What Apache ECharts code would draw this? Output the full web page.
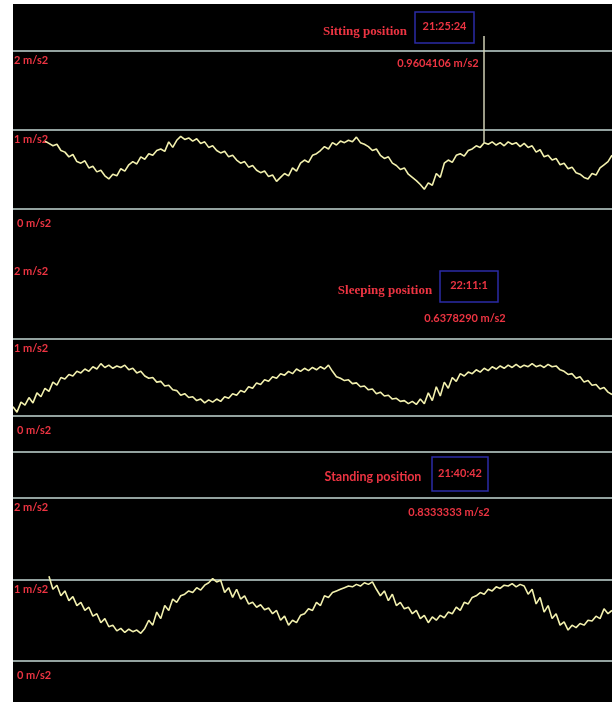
<!DOCTYPE html>
<html>
<head>
<meta charset="utf-8">
<script src="https://cdn.jsdelivr.net/npm/echarts@6/dist/echarts.min.js"></script>
<style>html,body{margin:0;padding:0;background:#fff;}#c{width:612px;height:702px;}</style>
</head>
<body>
<div id="c"></div>
<script>
// ---- Data (acceleration samples, m/s2; x = sample index) ----
const sampleCount = 150;
const tickLabels = ['0 m/s2', '1 m/s2', '2 m/s2'];

const sittingStart = 8;
const sittingValues = [
  0.86,0.83,0.80,0.82,0.74,0.72,0.66,0.69,0.60,0.58,0.61,0.52,0.54,0.47,0.49,0.42,0.38,
  0.44,0.42,0.51,0.48,0.56,0.60,0.57,0.66,0.63,0.70,0.68,0.74,0.76,0.73,0.85,0.78,0.87,
  0.92,0.88,0.90,0.86,0.89,0.83,0.85,0.78,0.80,0.74,0.71,0.73,0.66,0.68,0.62,0.58,0.60,
  0.53,0.55,0.49,0.46,0.48,0.41,0.43,0.35,0.40,0.45,0.42,0.52,0.48,0.58,0.62,0.59,0.68,
  0.70,0.74,0.79,0.76,0.84,0.81,0.86,0.84,0.87,0.85,0.91,0.84,0.82,0.79,0.74,0.76,0.68,
  0.64,0.66,0.58,0.55,0.50,0.52,0.44,0.40,0.36,0.31,0.25,0.33,0.30,0.45,0.40,0.58,0.62,
  0.59,0.68,0.70,0.67,0.74,0.76,0.80,0.78,0.84,0.82,0.85,0.81,0.84,0.80,0.85,0.82,0.84,
  0.79,0.83,0.78,0.80,0.72,0.75,0.66,0.68,0.62,0.64,0.56,0.58,0.51,0.53,0.46,0.44,0.40,
  0.38,0.45,0.43,0.52,0.56,0.60,0.68
];
const sittingMarkIndex = 118;

const sleepingStart = 0;
const sleepingValues = [
  0.12,0.05,0.18,0.14,0.24,0.17,0.30,0.25,0.36,0.32,0.44,0.40,0.50,0.48,0.54,0.52,0.58,
  0.56,0.61,0.58,0.64,0.61,0.68,0.63,0.66,0.62,0.65,0.63,0.66,0.60,0.62,0.56,0.58,0.52,
  0.49,0.50,0.44,0.45,0.39,0.40,0.34,0.33,0.27,0.29,0.24,0.25,0.20,0.22,0.17,0.21,0.18,
  0.22,0.19,0.25,0.23,0.29,0.27,0.33,0.31,0.38,0.36,0.43,0.41,0.47,0.45,0.51,0.49,0.55,
  0.53,0.58,0.55,0.61,0.58,0.62,0.59,0.63,0.60,0.64,0.61,0.66,0.58,0.51,0.49,0.46,0.47,
  0.42,0.43,0.38,0.39,0.34,0.35,0.29,0.31,0.26,0.27,0.22,0.23,0.19,0.20,0.16,0.19,0.15,
  0.22,0.16,0.30,0.20,0.38,0.26,0.44,0.36,0.50,0.45,0.55,0.52,0.57,0.55,0.60,0.57,0.62,
  0.59,0.64,0.61,0.65,0.62,0.66,0.63,0.67,0.63,0.66,0.64,0.68,0.64,0.66,0.63,0.67,0.64,
  0.65,0.60,0.58,0.54,0.55,0.49,0.51,0.44,0.46,0.40,0.41,0.35,0.37,0.31,0.28
];

const standingStart = 9;
const standingValues = [
  1.04,0.88,0.93,0.80,0.86,0.74,0.79,0.68,0.72,0.62,0.66,0.55,0.58,0.47,0.52,0.42,0.44,
  0.37,0.40,0.35,0.39,0.36,0.38,0.34,0.40,0.50,0.44,0.60,0.52,0.68,0.62,0.76,0.72,0.80,
  0.82,0.86,0.84,0.90,0.87,0.93,0.96,1.01,0.97,0.99,0.84,0.90,0.78,0.88,0.76,0.80,0.70,
  0.72,0.66,0.69,0.63,0.65,0.58,0.62,0.50,0.55,0.44,0.50,0.47,0.56,0.58,0.64,0.62,0.72,
  0.68,0.80,0.78,0.84,0.86,0.88,0.90,0.92,0.91,0.94,0.92,0.96,0.94,0.97,0.88,0.80,0.86,
  0.74,0.82,0.68,0.72,0.64,0.66,0.58,0.62,0.52,0.56,0.47,0.54,0.50,0.56,0.53,0.60,0.58,
  0.66,0.62,0.72,0.70,0.78,0.80,0.84,0.82,0.88,0.86,0.91,0.89,0.93,0.92,0.95,0.91,0.94,
  0.92,0.82,0.88,0.70,0.78,0.60,0.68,0.52,0.58,0.44,0.48,0.38,0.44,0.41,0.46,0.44,0.50,
  0.49,0.55,0.52,0.64,0.58,0.62
];

const panelMax = [2.19, 2, 2.564];
const annotations = [
  { title: 'Sitting position', time: '21:25:24', value: '0.9604106 m/s2' },
  { title: 'Sleeping position', time: '22:11:1', value: '0.6378290 m/s2' },
  { title: 'Standing position', time: '21:40:42', value: '0.8333333 m/s2' }
];

// ---- Chart ----
const RED = '#ec3442';
const GRIDC = '#93a29f';
const LINEC = '#f2f0ae';
const BLUE = '#2b2ba6';

function toPairs(start, vals) { return vals.map((v, k) => [start + k, v]); }

const grids = [
  { left: 13, width: 600, top: 36, height: 173 },
  { left: 13, width: 600, top: 262, height: 154 },
  { left: 13, width: 600, top: 452, height: 209 }
];

function yAxisFor(i) {
  return {
    type: 'value', gridIndex: i, min: 0, max: panelMax[i], interval: 1,
    axisLine: { show: false }, axisTick: { show: false },
    splitLine: { show: true, showMaxLine: i === 2, lineStyle: { color: GRIDC, width: 2 } },
    axisLabel: {
      inside: true, margin: 1, verticalAlign: 'top', align: 'left',
      formatter: function (v) {
        if (!Number.isInteger(v)) return '';
        return v === 0 ? '{z|' + tickLabels[0] + '}' : '{a|' + tickLabels[v] + '}';
      },
      rich: {
        a: { color: RED, fontSize: 11, fontWeight: 'bold', fontFamily: 'Lato, sans-serif', padding: [4, 0, 0, 0] },
        z: { color: RED, fontSize: 11, fontWeight: 'bold', fontFamily: 'Lato, sans-serif', padding: [9, 0, 0, 3] }
      }
    }
  };
}

const markValue = sittingValues[sittingMarkIndex - sittingStart];

const titleFont = ['bold 13px "Liberation Serif", serif', 'bold 13px "Liberation Serif", serif', 'bold 12.5px Lato, sans-serif'];
const annPos = [
  { tx: 365, ty: 32, bx: 415, by: 12, bw: 59, bh: 31, vx: 438, vy: 63 },
  { tx: 385, ty: 291, bx: 440, by: 271, bw: 58, bh: 31, vx: 465, vy: 318 },
  { tx: 373, ty: 477, bx: 432, by: 457, bw: 56, bh: 34, vx: 449, vy: 512 }
];
const graphics = [
  { type: 'rect', shape: { x: 0, y: 0, width: 13, height: 702 }, style: { fill: '#fff' }, z: 100 },
  { type: 'rect', shape: { x: 0, y: 0, width: 612, height: 4 }, style: { fill: '#fff' }, z: 100 }
];
annotations.forEach((a, i) => {
  const p = annPos[i];
  graphics.push({ type: 'text', x: p.tx, y: p.ty, style: { text: a.title, font: titleFont[i], fill: RED, align: 'center', verticalAlign: 'middle' } });
  graphics.push({ type: 'rect', shape: { x: p.bx, y: p.by, width: p.bw, height: p.bh }, style: { fill: 'none', stroke: BLUE, lineWidth: 1.5 } });
  graphics.push({ type: 'text', x: p.bx + p.bw / 2, y: p.by + p.bh / 2 - 1, style: { text: a.time, font: 'bold 11px Lato, sans-serif', fill: RED, align: 'center', verticalAlign: 'middle' } });
  graphics.push({ type: 'text', x: p.vx, y: p.vy, style: { text: a.value, font: 'bold 11px Lato, sans-serif', fill: RED, align: 'center', verticalAlign: 'middle' } });
});

function lineSeries(i, start, vals, extra) {
  return Object.assign({
    type: 'line', xAxisIndex: i, yAxisIndex: i, data: toPairs(start, vals),
    showSymbol: false, symbol: 'none', animation: false,
    lineStyle: { color: LINEC, width: 1.6 }
  }, extra || {});
}

const option = {
  backgroundColor: '#000',
  animation: false,
  grid: grids,
  xAxis: grids.map((g, i) => ({ type: 'value', gridIndex: i, min: 0, max: sampleCount, show: false })),
  yAxis: [0, 1, 2].map(yAxisFor),
  graphic: graphics,
  series: [
    lineSeries(0, sittingStart, sittingValues, {
      markLine: {
        silent: true, symbol: 'none', animation: false,
        label: { show: false },
        lineStyle: { color: '#cfcfb4', width: 1.5, type: 'solid' },
        data: [[{ coord: [sittingMarkIndex, markValue] }, { coord: [sittingMarkIndex, panelMax[0]] }]]
      }
    }),
    lineSeries(1, sleepingStart, sleepingValues),
    lineSeries(2, standingStart, standingValues)
  ]
};

const chart = echarts.init(document.getElementById('c'), null, { renderer: 'canvas' });
chart.setOption(option);
</script>
</body>
</html>
